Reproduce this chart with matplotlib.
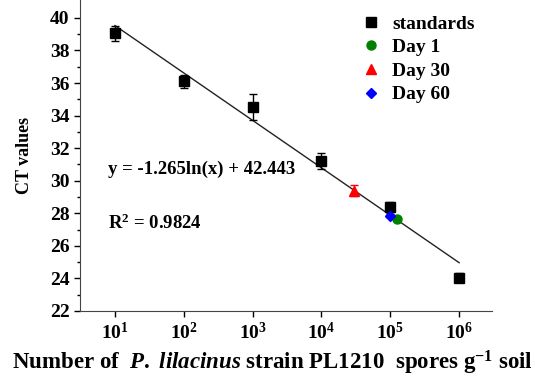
import numpy as np
import matplotlib
matplotlib.use("Agg")
import matplotlib.pyplot as plt
from matplotlib.lines import Line2D

# standards: spores per g soil vs CT
std_x = [1e1, 1e2, 1e3, 1e4, 1e5, 1e6]
std_ct = [39.05, 36.1, 34.55, 31.2, 28.4, 24.05]
std_err = [0.45, 0.4, 0.8, 0.5, 0.3, 0.3]

# soil samples
day1_x, day1_ct, day1_err = [1.25e5], [27.65], [0.1]
day30_x, day30_ct, day30_err = [3.0e4], [29.4], [0.35]
day60_x, day60_ct, day60_err = [1.0e5], [27.85], [0.1]

# log fit shown on chart
slope, intercept = -1.265, 42.443
fit_range = [1e1, 1e6]
eq_text = "y = -1.265ln(x) + 42.443"
r2_text = "R$^{2}$ = 0.9824"

plt.rcParams["font.family"] = ["Liberation Serif", "DejaVu Serif"]
plt.rcParams["font.weight"] = "bold"
plt.rcParams["mathtext.fontset"] = "custom"
plt.rcParams["mathtext.rm"] = "Liberation Serif:bold"
plt.rcParams["mathtext.bf"] = "Liberation Serif:bold"
plt.rcParams["mathtext.it"] = "Liberation Serif:bold:italic"

fig = plt.figure(figsize=(5.35, 3.8), dpi=100)
ax = fig.add_axes([0.1495, 0.1816, 0.7701, 0.8184])

xf = np.array(fit_range)
ax.plot(xf, slope * np.log(xf) + intercept, color="#222222", lw=1.0, zorder=1)

ek = dict(capsize=3, elinewidth=1, capthick=1, ls="none", ms=6.5, zorder=3)
ax.errorbar(std_x, std_ct, yerr=std_err, fmt="s", color="black", **ek)
ax.errorbar(day1_x, day1_ct, yerr=day1_err, fmt="o", color="green", **ek)
ax.errorbar(day30_x, day30_ct, yerr=day30_err, fmt="^", color="red", **ek)
ax.errorbar(day60_x, day60_ct, yerr=day60_err, fmt="D", color="blue", **{**ek, "ms": 5.5})

ax.set_xscale("log")
ax.set_xlim(3.1, 3.0e6)
ax.set_ylim(22, 41.1)
ax.set_yticks(np.arange(22, 41, 2))
ax.set_yticks(np.arange(23, 41, 2), minor=True)
ax.set_xticks([1e1, 1e2, 1e3, 1e4, 1e5, 1e6])
ax.set_xticklabels([r"$10^{%d}$" % k for k in range(1, 7)])
ax.xaxis.set_minor_locator(matplotlib.ticker.NullLocator())
ax.tick_params(axis="both", which="major", direction="out", length=4, width=1, labelsize=14)
ax.tick_params(axis="y", which="minor", direction="out", length=2.5, width=1)
for s in ["top", "right"]:
    ax.spines[s].set_visible(False)
for s in ["left", "bottom"]:
    ax.spines[s].set_color("#444444")

ax.text(7.9, 30.7, eq_text, fontsize=13.5, fontweight="bold", va="center", ha="left")
ax.text(7.9, 27.4, r2_text, fontsize=13.5, fontweight="bold", va="center", ha="left")

ax.set_ylabel("CT values", fontsize=13, fontweight="bold", labelpad=12)
ax.set_xlabel(r"Number of  $\mathit{P.\ lilacinus}$ strain PL1210  spores g$^{-1}$ soil",
              fontsize=16.5, fontweight="bold")
ax.xaxis.set_label_coords(0.466, -0.12)

handles = [
    Line2D([], [], ls="none", marker="s", ms=6.5, color="black"),
    Line2D([], [], ls="none", marker="o", ms=6.5, color="green"),
    Line2D([], [], ls="none", marker="^", ms=6.5, color="red"),
    Line2D([], [], ls="none", marker="D", ms=5.5, color="blue"),
]
labels = ["standards", "Day 1", "Day 30", "Day 60"]
leg = ax.legend(handles, labels, loc="upper left", bbox_to_anchor=(0.683, 0.952), frameon=False,
                fontsize=14, handlelength=1.0, handletextpad=0.6, labelspacing=0.31,
                borderpad=0, borderaxespad=0)
for t in leg.get_texts():
    t.set_fontweight("bold")

fig.savefig("out.png", dpi=100)
